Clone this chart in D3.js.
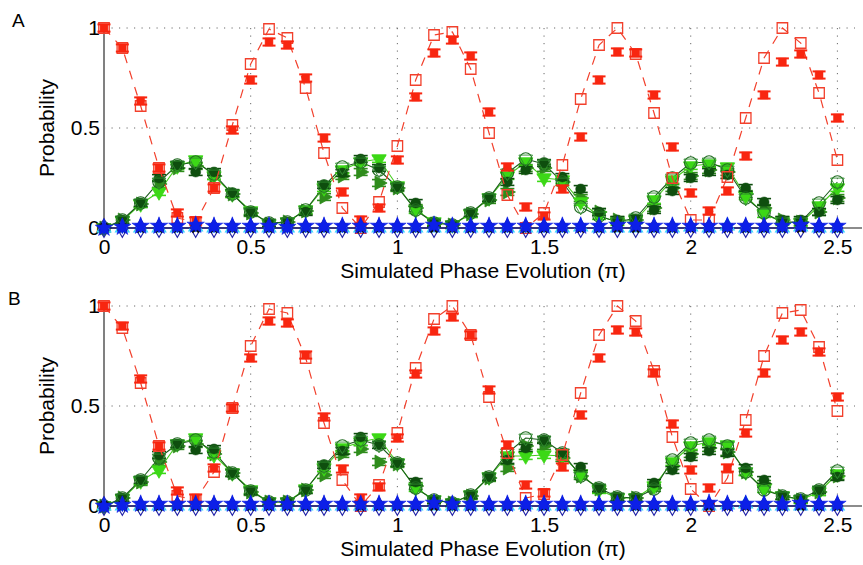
<!DOCTYPE html>
<html><head><meta charset="utf-8">
<script src="https://cdn.jsdelivr.net/npm/d3@7"></script>
<style>
body{margin:0;background:#fff}
svg{display:block}
text{font-family:"Liberation Sans",Arial,Helvetica,sans-serif;fill:#000}
</style>
</head><body><svg id="c" width="863" height="565"></svg>
<script>
// ---------- data ----------
const phase = [0,0.0625,0.125,0.1875,0.25,0.3125,0.375,0.4375,0.5,0.5625,0.625,0.6875,0.75,0.8125,0.875,0.9375,1,1.0625,1.125,1.1875,1.25,1.3125,1.375,1.4375,1.5,1.5625,1.625,1.6875,1.75,1.8125,1.875,1.9375,2,2.0625,2.125,2.1875,2.25,2.3125,2.375,2.4375,2.5];
const xTicks = [0,0.5,1,1.5,2,2.5];
const xTickLabels = ["0","0.5","1","1.5","2","2.5"];
const yTicks = [0,0.5,1];
const yTickLabels = ["0","0.5","1"];
const panelLabels = ["A","B"];
const xTitle = "Simulated Phase Evolution (\u03c0)";
const yTitle = "Probability";

// Panel A
const redTheoryA = [1.0,0.90,0.61,0.30,0.05,0.03,0.20,0.515,0.82,0.995,0.95,0.70,0.375,0.10,0.0,0.13,0.41,0.74,0.965,0.98,0.795,0.475,0.165,0.0,0.075,0.315,0.645,0.915,1.0,0.87,0.575,0.25,0.04,0.04,0.255,0.55,0.85,1.0,0.925,0.675,0.34];
const redExpA = [1.0,0.90,0.635,0.30,0.075,0.035,0.20,0.49,0.74,0.93,0.915,0.75,0.45,0.18,0.04,0.10,0.34,0.655,0.875,0.94,0.86,0.58,0.305,0.105,0.06,0.195,0.455,0.74,0.88,0.875,0.665,0.405,0.175,0.085,0.185,0.36,0.665,0.83,0.87,0.765,0.55];
const greenTheoryA = [0.0,0.04,0.125,0.23,0.315,0.33,0.27,0.17,0.08,0.025,0.03,0.09,0.21,0.305,0.33,0.29,0.205,0.09,0.025,0.015,0.075,0.15,0.275,0.345,0.32,0.23,0.105,0.06,0.03,0.05,0.155,0.25,0.325,0.33,0.29,0.15,0.075,0.03,0.03,0.125,0.23];
const greenDarkA = [0.0,0.04,0.125,0.25,0.315,0.28,0.28,0.175,0.08,0.025,0.03,0.08,0.215,0.275,0.345,0.30,0.205,0.125,0.025,0.015,0.075,0.15,0.23,0.29,0.325,0.255,0.195,0.08,0.04,0.045,0.09,0.185,0.25,0.28,0.265,0.2,0.13,0.04,0.04,0.08,0.14];
const greenLightA = [0.0,0.035,0.12,0.18,0.31,0.34,0.26,0.17,0.085,0.02,0.03,0.09,0.2,0.29,0.33,0.345,0.21,0.09,0.03,0.015,0.07,0.15,0.26,0.33,0.25,0.24,0.13,0.06,0.03,0.04,0.14,0.24,0.31,0.32,0.305,0.16,0.07,0.03,0.025,0.11,0.2];
const greenMidA = [0.0,0.04,0.12,0.22,0.3,0.31,0.26,0.17,0.075,0.02,0.03,0.085,0.155,0.26,0.28,0.225,0.2,0.1,0.02,0.015,0.07,0.14,0.18,0.3,0.3,0.23,0.15,0.08,0.04,0.04,0.1,0.2,0.26,0.29,0.28,0.17,0.1,0.04,0.03,0.08,0.15];
const blueTheoryA = [0,0,0,0,0,0,0,0,0,0,0,0,0,0,0,0,0,0,0,0,0,0,0,0,0,0,0,0,0,0,0,0,0,0,0,0,0,0,0,0,0];
const blueExpA = [0.0,0.005,0.01,0.01,0.01,0.015,0.01,0.01,0.01,0.01,0.005,0.01,0.01,0.01,0.01,0.01,0.01,0.01,0.015,0.01,0.01,0.01,0.01,0.01,0.01,0.01,0.01,0.01,0.015,0.015,0.01,0.01,0.01,0.01,0.01,0.01,0.01,0.01,0.015,0.01,0.01];
const cyanExpA = [0.0,0.0,0.0,0.0,0.0,0.005,0.0,0.0,0.0,0.0,0.0,0.0,0.0,0.0,0.0,0.0,0.0,0.0,0.0,0.0,0.0,0.0,0.0,0.0,0.0,0.0,0.005,0.0,0.0,0.0,0.0,0.0,0.005,0.0,0.01,0.0,0.0,0.0,0.005,0.0,0.0];

// Panel B
const redTheoryB = [1.0,0.89,0.615,0.30,0.05,0.03,0.17,0.49,0.80,0.985,0.965,0.74,0.415,0.13,0.0,0.105,0.365,0.69,0.935,1.0,0.855,0.545,0.265,0.04,0.06,0.255,0.565,0.855,1.0,0.925,0.675,0.345,0.085,0.0,0.14,0.43,0.75,0.965,0.98,0.795,0.475];
const redExpB = [1.0,0.90,0.635,0.30,0.075,0.04,0.19,0.49,0.74,0.925,0.915,0.755,0.445,0.185,0.04,0.095,0.34,0.66,0.875,0.945,0.855,0.58,0.305,0.105,0.065,0.195,0.455,0.74,0.88,0.87,0.665,0.41,0.18,0.09,0.19,0.365,0.665,0.83,0.87,0.77,0.545];
const greenTheoryB = [0.0,0.04,0.13,0.24,0.31,0.33,0.27,0.165,0.075,0.02,0.02,0.08,0.2,0.3,0.33,0.305,0.215,0.09,0.03,0.015,0.055,0.145,0.265,0.34,0.33,0.265,0.15,0.09,0.045,0.04,0.085,0.23,0.315,0.33,0.3,0.17,0.08,0.05,0.035,0.08,0.175];
const greenDarkB = [0.0,0.04,0.13,0.255,0.31,0.28,0.285,0.165,0.075,0.02,0.02,0.08,0.205,0.275,0.345,0.305,0.215,0.12,0.03,0.015,0.055,0.145,0.23,0.29,0.33,0.265,0.195,0.09,0.045,0.04,0.115,0.18,0.245,0.275,0.265,0.19,0.13,0.05,0.035,0.08,0.145];
const greenLightB = [0.0,0.035,0.125,0.18,0.31,0.34,0.255,0.165,0.08,0.02,0.02,0.085,0.19,0.29,0.32,0.34,0.215,0.09,0.03,0.015,0.055,0.145,0.25,0.25,0.255,0.25,0.16,0.08,0.04,0.04,0.1,0.22,0.3,0.32,0.305,0.17,0.085,0.05,0.03,0.07,0.16];
const greenMidB = [0.0,0.04,0.12,0.22,0.3,0.31,0.26,0.165,0.07,0.02,0.02,0.08,0.155,0.26,0.285,0.22,0.21,0.1,0.02,0.015,0.05,0.14,0.19,0.3,0.3,0.24,0.15,0.085,0.04,0.04,0.09,0.2,0.26,0.29,0.27,0.17,0.11,0.05,0.03,0.07,0.15];
const blueTheoryB = [0,0,0,0,0,0,0,0,0,0,0,0,0,0,0,0,0,0,0,0,0,0,0,0,0,0,0,0,0,0,0,0,0,0,0,0,0,0,0,0,0];
const blueExpB = [0.0,0.005,0.01,0.01,0.01,0.01,0.01,0.01,0.01,0.01,0.01,0.01,0.01,0.01,0.01,0.01,0.01,0.01,0.015,0.01,0.01,0.01,0.01,0.01,0.01,0.01,0.01,0.01,0.01,0.01,0.01,0.01,0.01,0.015,0.01,0.01,0.01,0.01,0.015,0.01,0.01];
const cyanExpB = [0.0,0.0,0.0,0.0,0.0,0.0,0.0,0.0,0.0,0.0,0.0,0.0,0.0,0.0,0.0,0.0,0.0,0.0,0.0,0.0,0.0,0.0,0.0,0.005,0.0,0.0,0.0,0.0,0.0,0.0,0.0,0.0,0.0,0.0,0.005,0.01,0.0,0.0,0.0,0.0,0.0];

const redErr = 0.018, greenErr = 0.017, blueErr = 0.01;

// ---------- drawing ----------
const svg = d3.select("#c");
const x = d3.scaleLinear().domain([0, 2.56]).range([104, 855]);

const panels = [
  {label: panelLabels[0], top: 28, bottom: 228, lblX: 12,
   redT: redTheoryA, redE: redExpA, gT: greenTheoryA, gD: greenDarkA, gL: greenLightA, gM: greenMidA, bT: blueTheoryA, bE: blueExpA, cE: cyanExpA},
  {label: panelLabels[1], top: 306, bottom: 506, lblX: 8,
   redT: redTheoryB, redE: redExpB, gT: greenTheoryB, gD: greenDarkB, gL: greenLightB, gM: greenMidB, bT: blueTheoryB, bE: blueExpB, cE: cyanExpB}
];

const C = {
  redOpen: "#f2402c", redFill: "#f82610",
  gDark: "#0e4e0e", gMid: "#2f8c1c", gLight: "#3cd816", gOpen: "#1f6a1f", gLine: "#1c5c1c", gLightLine: "#45cc1e",
  blue: "#0c1fe8", cyan: "#38d4ff", navy: "#2424a8", zeroLine: "#1a1a7a"
};

function sym(type, size) { return d3.symbol().type(type).size(size)(); }

panels.forEach(p => {
  const y = d3.scaleLinear().domain([0, 1]).range([p.bottom, p.top]);
  const g = svg.append("g");

  // grid (dotted)
  g.selectAll(".vg").data(xTicks.filter(d => d > 0)).join("line")
    .attr("x1", d => x(d)).attr("x2", d => x(d))
    .attr("y1", y(1)).attr("y2", y(0))
    .attr("stroke", "#6a6a6a").attr("stroke-width", 1).attr("stroke-dasharray", "1.2,6.3");
  g.selectAll(".hg").data(yTicks.filter(d => d > 0)).join("line")
    .attr("x1", x(0)).attr("x2", x(2.56))
    .attr("y1", d => y(d)).attr("y2", d => y(d))
    .attr("stroke", "#6a6a6a").attr("stroke-width", 1).attr("stroke-dasharray", "1.2,6.3");

  // axes lines
  g.append("line").attr("x1", x(0)).attr("x2", 862).attr("y1", y(0)).attr("y2", y(0))
    .attr("stroke", "#666").attr("stroke-width", 1.4);
  g.append("line").attr("x1", x(0)).attr("x2", x(0)).attr("y1", y(1.02)).attr("y2", y(-0.01))
    .attr("stroke", "#808080").attr("stroke-width", 2);

  // tick labels through d3 axes
  const ax = g.append("g").attr("transform", `translate(0,${y(0)})`)
    .call(d3.axisBottom(x).tickValues(xTicks).tickFormat((d, i) => xTickLabels[i]).tickSize(0).tickPadding(11));
  ax.select(".domain").remove();
  ax.selectAll("text").attr("font-size", 21).attr("font-family", '"Liberation Sans",Arial,sans-serif').attr("fill", "#000");
  const ay = g.append("g").attr("transform", `translate(${x(0)},0)`)
    .call(d3.axisLeft(y).tickValues(yTicks).tickFormat((d, i) => yTickLabels[i]).tickSize(0).tickPadding(4));
  ay.select(".domain").remove();
  ay.selectAll("text").attr("font-size", 21).attr("font-family", '"Liberation Sans",Arial,sans-serif').attr("fill", "#000");

  // titles
  g.append("text").attr("x", 483).attr("y", p.bottom + 49.5).attr("text-anchor", "middle")
    .attr("font-size", 21).text(xTitle);
  g.append("text").attr("transform", `translate(54,${(p.top + p.bottom) / 2}) rotate(-90)`)
    .attr("text-anchor", "middle").attr("font-size", 21).text(yTitle);
  g.append("text").attr("x", p.lblX).attr("y", p.top - 1).attr("font-size", 19).text(p.label);

  const pts = arr => arr.map((v, i) => [phase[i], v]);

  // green lines
  const line = d3.line().x(d => x(d[0])).y(d => y(d[1]));
  g.append("path").attr("d", line(pts(p.gL))).attr("fill", "none").attr("stroke", C.gLightLine).attr("stroke-width", 1.1);
  g.append("path").attr("d", line(pts(p.gT))).attr("fill", "none").attr("stroke", C.gLine).attr("stroke-width", 1.1);

  // error bars helper
  function errBars(arr, err, color, capW, sw) {
    const eb = g.append("g").attr("stroke", color).attr("stroke-width", sw);
    pts(arr).forEach(d => {
      const cx = x(d[0]), y1 = y(d[1] - err), y2 = y(d[1] + err);
      eb.append("line").attr("x1", cx).attr("x2", cx).attr("y1", y1).attr("y2", y2);
      eb.append("line").attr("x1", cx - capW / 2).attr("x2", cx + capW / 2).attr("y1", y1).attr("y2", y1);
      eb.append("line").attr("x1", cx - capW / 2).attr("x2", cx + capW / 2).attr("y1", y2).attr("y2", y2);
    });
  }
  function markers(arr, path, rot, fill, stroke, sw) {
    g.append("g").selectAll("path").data(pts(arr)).join("path")
      .attr("d", path)
      .attr("transform", d => `translate(${x(d[0])},${y(d[1])}) rotate(${rot})`)
      .attr("fill", fill).attr("stroke", stroke).attr("stroke-width", sw);
  }

  // green experimental & theory markers
  errBars(p.gM, greenErr, C.gMid, 14, 1.6);
  markers(p.gM, sym(d3.symbolTriangle, 85), 90, C.gMid, C.gMid, 0.8);
  errBars(p.gL, greenErr, C.gLight, 14, 1.6);
  markers(p.gL, sym(d3.symbolTriangle, 90), 180, C.gLight, C.gLight, 0.8);
  errBars(p.gD, greenErr, C.gDark, 14, 1.6);
  markers(p.gD, sym(d3.symbolCircle, 80), 0, C.gDark, C.gDark, 0.5);
  markers(p.gT, sym(d3.symbolCircle, 120), 0, "none", C.gOpen, 1.1);
  markers(p.gT, sym(d3.symbolTriangle, 80), 180, "none", "#2f8a2f", 0.9);

  // red theory: dashed line + open squares
  g.append("path").attr("d", line(pts(p.redT))).attr("fill", "none")
    .attr("stroke", C.redOpen).attr("stroke-width", 1.2).attr("stroke-dasharray", "9,8");
  markers(p.redT, sym(d3.symbolSquare, 110), 0, "none", C.redOpen, 1.3);
  // red experiment
  errBars(p.redE, redErr, C.redFill, 13, 2);
  markers(p.redE, sym(d3.symbolSquare, 62), 0, C.redFill, C.redFill, 0.5);

  // blue group near zero
  g.append("path").attr("d", line(pts(p.bT))).attr("fill", "none").attr("stroke", C.zeroLine).attr("stroke-width", 1.6);
  markers(p.cE, sym(d3.symbolTriangle, 80), 0, "none", C.cyan, 1.2);
  markers(p.bT, sym(d3.symbolDiamond, 100), 0, "none", C.navy, 1.1);
  markers(p.bT, sym(d3.symbolCross, 70), 45, "#111", "none", 0);
  errBars(p.bE, blueErr, C.blue, 11, 1.4);
  markers(p.bE, sym(d3.symbolStar, 95), 0, C.blue, C.blue, 0.6);
  markers(p.bE, sym(d3.symbolDiamond, 60), 0, C.blue, "none", 0);
});
</script>
</body></html>
